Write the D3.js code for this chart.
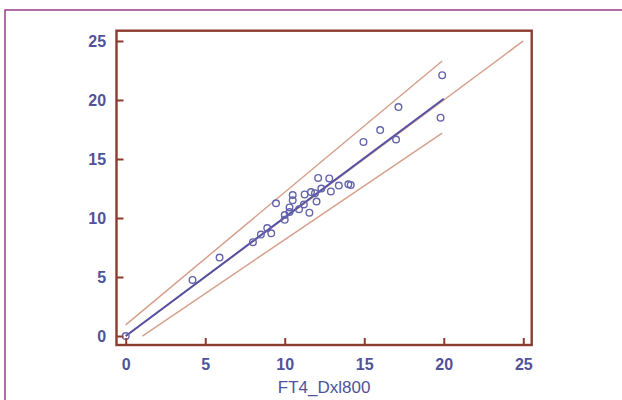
<!DOCTYPE html>
<html>
<head>
<meta charset="utf-8">
<script src="https://cdn.jsdelivr.net/npm/d3@7"></script>
<style>
  body { margin: 0; background: #fff; }
  svg { display: block; }
</style>
</head>
<body>
<div id="root"></div>
<script>
const width = 622,
      height = 400

// scatter points
const xVals = [0, 4.2, 5.9, 8.0, 8.5, 8.9, 9.15, 9.45, 10.0, 10.0, 10.3, 10.3, 10.5, 10.5,
               10.9, 11.2, 11.25, 11.55, 11.65, 11.9, 12.0, 12.1, 12.3, 12.8, 12.9, 13.4,
               14.0, 14.15, 14.95, 16.0, 17.0, 17.15, 19.8, 19.9]
const yVals = [0, 4.75, 6.65, 7.95, 8.6, 9.15, 8.7, 11.25, 9.85, 10.25, 10.9, 10.5, 11.5, 11.95,
               10.75, 11.15, 12.0, 10.45, 12.2, 12.1, 11.4, 13.4, 12.5, 13.35, 12.25, 12.75,
               12.85, 12.8, 16.45, 17.45, 16.65, 19.4, 18.5, 22.1]

// fitted line and limit lines as [x, y] end points
const regLine = [[0, 0], [20, 20.1]]
const identLine = [[0, 0], [25, 25]]
const upperLine = [[0, 0.95], [19.9, 23.3]]
const lowerLine = [[1.05, 0], [19.9, 17.2]]

const xTicks = [0, 5, 10, 15, 20, 25]
const yTicks = [0, 5, 10, 15, 20, 25]
const xTitle = 'FT4_Dxl800'

const svg = d3.select('#root')
  .append('svg')
  .attr('width', width)
  .attr('height', height)

// outer frame of the figure
svg.append('rect')
  .attr('x', 5).attr('y', 10)
  .attr('width', 640).attr('height', 420)
  .attr('fill', 'none')
  .attr('stroke', '#9a3c8c')
  .attr('stroke-width', 1.5)

const pLeft = 116.5, pRight = 531.7, pTop = 30.7, pBottom = 345

const x = d3.scaleLinear().domain([-0.58, 25.53]).range([pLeft, pRight])
const y = d3.scaleLinear().domain([-0.76, 25.87]).range([pBottom, pTop])

const line = d3.line().x(d => x(d[0])).y(d => y(d[1]))

const brown = '#d6a08c'
svg.append('path').datum(identLine).attr('d', line)
  .attr('fill', 'none').attr('stroke', brown).attr('stroke-width', 1.5)
svg.append('path').datum(upperLine).attr('d', line)
  .attr('fill', 'none').attr('stroke', brown).attr('stroke-width', 1.5)
svg.append('path').datum(lowerLine).attr('d', line)
  .attr('fill', 'none').attr('stroke', brown).attr('stroke-width', 1.5)
svg.append('path').datum(regLine).attr('d', line)
  .attr('fill', 'none').attr('stroke', '#5452a4').attr('stroke-width', 2)

svg.append('g')
  .selectAll('circle')
  .data(xVals.map((v, i) => [v, yVals[i]]))
  .enter().append('circle')
  .attr('cx', d => x(d[0]))
  .attr('cy', d => y(d[1]))
  .attr('r', 3.3)
  .attr('fill', 'none')
  .attr('stroke', '#6464ac')
  .attr('stroke-width', 1.4)

// axes with inward ticks
const axisColor = '#8c3b2f'
const xAxis = svg.append('g')
  .attr('transform', `translate(0,${pBottom})`)
  .call(d3.axisBottom(x).tickValues(xTicks).tickSizeInner(-7).tickSizeOuter(0).tickPadding(14))
const yAxis = svg.append('g')
  .attr('transform', `translate(${pLeft},0)`)
  .call(d3.axisLeft(y).tickValues(yTicks).tickSizeInner(-7).tickSizeOuter(0).tickPadding(12))

;[xAxis, yAxis].forEach(g => {
  g.select('.domain').remove()
  g.selectAll('.tick line').attr('stroke', axisColor).attr('stroke-width', 2)
  g.selectAll('.tick text')
    .attr('fill', '#52529a')
    .style('font-family', '"Liberation Sans", Arial, sans-serif')
    .style('font-size', '16px')
    .style('font-weight', 'bold')
})
yAxis.selectAll('.tick text').attr('dx', '0.1em')

// plot box
svg.append('rect')
  .attr('x', pLeft).attr('y', pTop)
  .attr('width', pRight - pLeft).attr('height', pBottom - pTop)
  .attr('fill', 'none')
  .attr('stroke', axisColor)
  .attr('stroke-width', 2.4)

svg.append('text')
  .attr('x', (pLeft + pRight) / 2)
  .attr('y', 393)
  .attr('text-anchor', 'middle')
  .attr('fill', '#52529a')
  .style('font-family', '"Liberation Sans", Arial, sans-serif')
  .style('font-size', '17px')
  .text(xTitle)
</script>
</body>
</html>
